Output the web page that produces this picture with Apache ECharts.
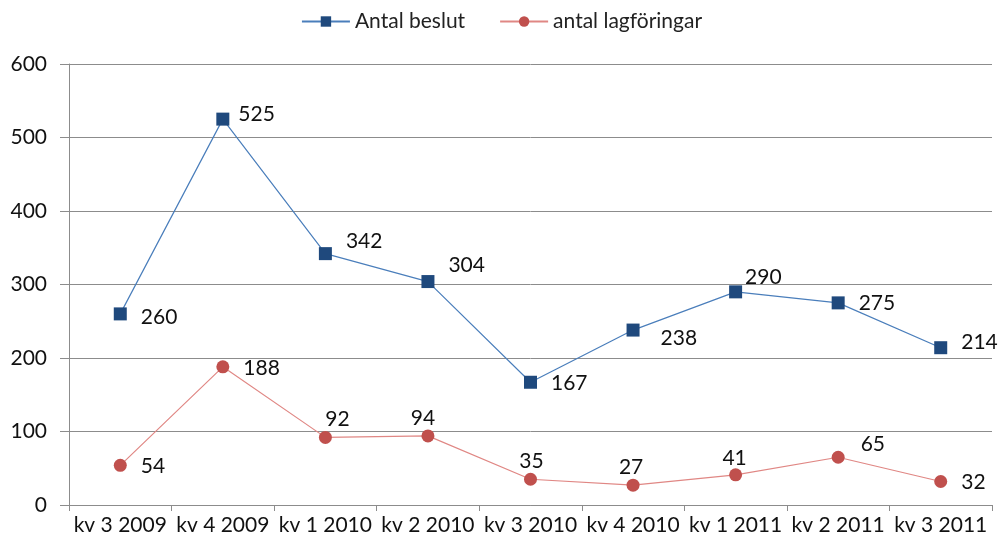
<!DOCTYPE html>
<html><head><meta charset="utf-8">
<script src="https://cdn.jsdelivr.net/npm/echarts@6/dist/echarts.min.js"></script>
<style>html,body{margin:0;padding:0;background:#fff}#c{width:1003px;height:546px}</style>
</head><body><div id="c"></div>
<script>
const categories = ['kv 3 2009','kv 4 2009','kv 1 2010','kv 2 2010','kv 3 2010','kv 4 2010','kv 1 2011','kv 2 2011','kv 3 2011'];
const beslut = [260, 525, 342, 304, 167, 238, 290, 275, 214];
const lagforingar = [54, 188, 92, 94, 35, 27, 41, 65, 32];
const yTicks = [0, 100, 200, 300, 400, 500, 600];

const FONT = 'Lato';
const FS = 21;
const beslutLabels = [
  {position:'right', offset:[6,3]},
  {position:'right', offset:[1,-5]},
  {position:'right', offset:[6,-12]},
  {position:'right', offset:[6,-16]},
  {position:'right', offset:[6,1]},
  {position:'right', offset:[13,8]},
  {position:'right', offset:[-5,-15]},
  {position:'right', offset:[6,0]},
  {position:'right', offset:[6,-5]}
];
const lagLabels = [
  {position:'right', offset:[6,1]},
  {position:'right', offset:[6,1]},
  {position:'top', offset:[12,7]},
  {position:'top', offset:[-5,7]},
  {position:'top', offset:[1,7]},
  {position:'top', offset:[-2,7]},
  {position:'top', offset:[-1,8]},
  {position:'right', offset:[8,-13]},
  {position:'right', offset:[6,1]}
];

const chart = echarts.init(document.getElementById('c'), null, {renderer:'canvas'});
chart.setOption({
  animation:false,
  textStyle:{fontFamily:FONT},
  legend:{
    top:6, left:'center', itemGap:34, itemWidth:48, itemHeight:13,
    textStyle:{fontFamily:FONT, fontSize:FS, color:'#222'},
    data:[{name:'Antal beslut'},{name:'antal lagföringar'}]
  },
  grid:{left:69, right:11, top:64, bottom:41},
  xAxis:{
    type:'category', data:categories, boundaryGap:true,
    axisLine:{lineStyle:{color:'#8c8c8c', width:1}},
    axisTick:{show:true, alignWithLabel:false, length:6, lineStyle:{color:'#8c8c8c'}},
    axisLabel:{fontFamily:FONT, fontSize:FS, color:'#111', margin:10, interval:0}
  },
  yAxis:{
    type:'value', min:yTicks[0], max:yTicks[yTicks.length-1], interval:100,
    axisLine:{show:true, lineStyle:{color:'#8c8c8c', width:1}},
    axisTick:{show:true, length:9, lineStyle:{color:'#8c8c8c'}},
    splitLine:{show:true, lineStyle:{color:'#8c8c8c', width:1}},
    axisLabel:{fontFamily:FONT, fontSize:FS, color:'#111', margin:22}
  },
  series:[
    {
      name:'Antal beslut', type:'line', data:beslut.map((v,i)=>({value:v, label:beslutLabels[i]})),
      symbol:'rect', symbolSize:13,
      lineStyle:{color:'#4a7ebb', width:1.2},
      itemStyle:{color:'#1f497d'},
      label:{show:true, fontFamily:FONT, fontSize:FS, color:'#111', distance:8}
    },
    {
      name:'antal lagföringar', type:'line', data:lagforingar.map((v,i)=>({value:v, label:lagLabels[i]})),
      symbol:'circle', symbolSize:13,
      lineStyle:{color:'#e08784', width:1.2},
      itemStyle:{color:'#c0504d'},
      label:{show:true, fontFamily:FONT, fontSize:FS, color:'#111', distance:8}
    }
  ]
});
</script></body></html>
